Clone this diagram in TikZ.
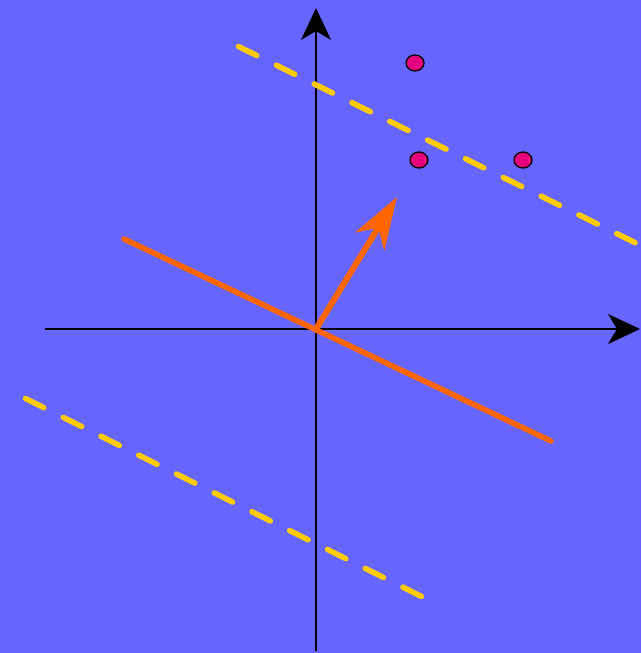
\documentclass[tikz,border=0pt]{standalone}
\usetikzlibrary{arrows.meta,shapes.geometric}
\definecolor{bg}{HTML}{6666FF}
\definecolor{org}{HTML}{FF6600}
\definecolor{ylw}{HTML}{FFCC00}
\definecolor{mag}{HTML}{E6007E}
\tikzset{
  axis/.style={line width=1.3pt,-{Stealth[length=32pt,width=30pt,inset=9pt]}},
  margin/.style={ylw,line width=5.5pt,line cap=round,dash pattern=on 20.5pt off 21.7pt},
  sep/.style={org,line width=5.5pt,line cap=round},
  normalarrow/.style={org,line width=6pt,-{Stealth[length=52pt,width=34pt,inset=16pt]}},
  pt/.style={ellipse,draw=black,line width=1.3pt,fill=mag,minimum width=18pt,minimum height=16pt,inner sep=0pt},
}
\begin{document}
\begin{tikzpicture}[x=1pt,y=-1pt]
\fill[bg] (0,0) rectangle (641,653);
\useasboundingbox (0,0) rectangle (641,653);
\coordinate (xl) at (45,329);
\coordinate (xr) at (640,329);
\coordinate (yb) at (316,651);
\coordinate (yt) at (316,8);
\coordinate (o) at (316,329);
\draw[axis] (xl) -- (xr);
\draw[axis] (yb) -- (yt);
\coordinate (s1) at (124,239);
\coordinate (s2) at (551,441);
\draw[sep] (s1) -- (s2);
\coordinate (w) at (397,197);
\draw[normalarrow] (o) -- (w);
\coordinate (u1) at (238.5,46.5);
\coordinate (u2) at (660,255);
\coordinate (l1) at (25.5,398.5);
\coordinate (l2) at (421.5,596.5);
\draw[margin] (u1) -- (u2);
\draw[margin] (l1) -- (l2);
\node[pt] (p1) at (415,63) {};
\node[pt] (p2) at (419,160) {};
\node[pt] (p3) at (523,160) {};
\end{tikzpicture}
\end{document}
